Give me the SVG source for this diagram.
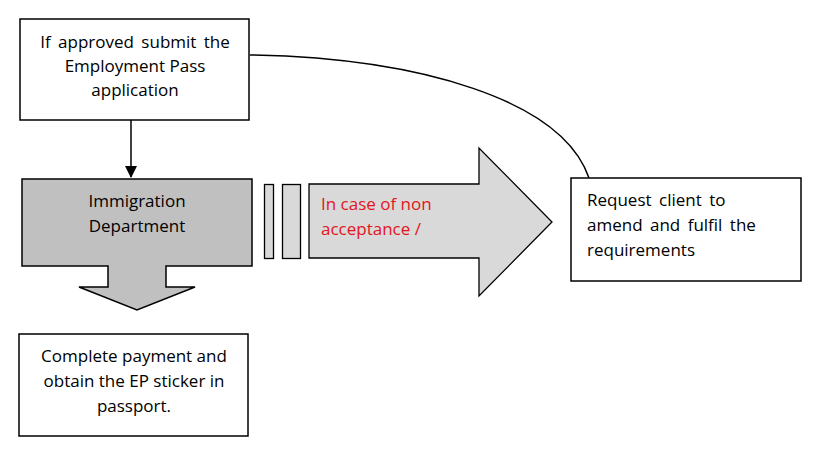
<svg xmlns="http://www.w3.org/2000/svg" width="826" height="454" viewBox="0 0 826 454">
<style>
.box{fill:#fff;stroke:#000;stroke-width:1.5}
.t{font-family:"Open Sans","Liberation Sans",Arial,sans-serif;font-size:17px;fill:#000}
.c{text-anchor:middle}
.red{fill:#e3141c}
.conn{fill:none;stroke:#000;stroke-width:1.5}
</style>
<defs>
<marker id="ah" markerWidth="12" markerHeight="12" refX="11" refY="6" orient="auto" markerUnits="userSpaceOnUse">
<path d="M0,0 L12,6 L0,12 Z" fill="#000"/>
</marker>
</defs>
<rect width="826" height="454" fill="#fff"/>
<g id="connectors">
<path class="conn" d="M131,103 L131,177" marker-end="url(#ah)"/>
<path class="conn" d="M250,55 C420,58 562,100 589,178"/>
</g>
<g id="submit">
<rect class="box" x="20" y="19" width="229" height="101"/>
<text class="t c" x="135" y="48" word-spacing="3">If approved submit the</text>
<text class="t c" x="135" y="72">Employment Pass</text>
<text class="t c" x="135" y="96">application</text>
</g>
<g id="immigration">
<path d="M22,179 H252 V266 H166 V287 H195 L137,310 L79,287 H108 V266 H22 Z" fill="#c0c0c0" stroke="#000" stroke-width="1.5"/>
<text class="t c" x="137" y="207">Immigration</text>
<text class="t c" x="137" y="232">Department</text>
</g>
<g id="nonacceptance">
<rect x="264.5" y="184.5" width="9" height="74" fill="#d9d9d9" stroke="#000" stroke-width="1.3"/>
<rect x="282.5" y="184.5" width="18" height="74" fill="#d9d9d9" stroke="#000" stroke-width="1.3"/>
<path d="M309,184 H479 V148 L552,222 L479,296 V258 H309 Z" fill="#d9d9d9" stroke="#000" stroke-width="1.3"/>
<text class="t red" x="321" y="210">In case of non</text>
<text class="t red" x="321" y="235">acceptance /</text>
</g>
<g id="request">
<rect class="box" x="571" y="178" width="230" height="103"/>
<text class="t" x="587" y="206" word-spacing="3">Request client to</text>
<text class="t" x="587" y="231" word-spacing="3">amend and fulfil the</text>
<text class="t" x="587" y="256">requirements</text>
</g>
<g id="payment">
<rect class="box" x="19" y="334" width="229" height="102"/>
<text class="t c" x="134" y="362">Complete payment and</text>
<text class="t c" x="134" y="387">obtain the EP sticker in</text>
<text class="t c" x="134" y="412">passport.</text>
</g>
</svg>
